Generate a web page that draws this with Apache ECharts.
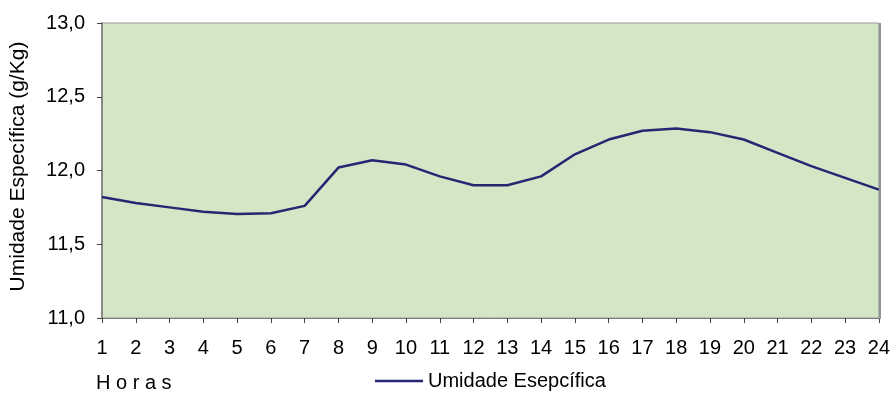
<!DOCTYPE html>
<html>
<head>
<meta charset="utf-8">
<script src="https://cdn.jsdelivr.net/npm/echarts@6/dist/echarts.min.js"></script>
<style>
  html, body { margin: 0; padding: 0; background: #ffffff; }
  #chart { width: 893px; height: 394px; }
</style>
</head>
<body>
<div id="chart"></div>
<script>
// Hourly specific humidity (g/Kg)
const hours = ['1','2','3','4','5','6','7','8','9','10','11','12','13','14','15','16','17','18','19','20','21','22','23','24'];
const umidade = [11.82, 11.78, 11.75, 11.72, 11.705, 11.71, 11.76, 12.02, 12.07, 12.04, 11.96, 11.90, 11.90, 11.96, 12.11, 12.21, 12.27, 12.285, 12.26, 12.21, 12.12, 12.03, 11.95, 11.87];
const seriesName = 'Umidade Esepcífica';
const yTitle = 'Umidade Específica (g/Kg)';
const xTitle = 'H o r a s';

const chart = echarts.init(document.getElementById('chart'), null, { renderer: 'canvas' });
const font = 'Liberation Sans, Arial, sans-serif';
const fs = 20;

chart.setOption({
  animation: false,
  backgroundColor: '#ffffff',
  textStyle: { fontFamily: font },
  grid: {
    left: 102, right: 14, top: 23, bottom: 76,
    show: true, backgroundColor: '#d3e6c5', borderColor: '#9a9a9a', borderWidth: 1
  },
  legend: {
    data: [{ name: seriesName, icon: 'rect' }],
    left: 370, top: 366,
    itemWidth: 48, itemHeight: 2.5, itemGap: 6,
    textStyle: { fontFamily: font, fontSize: fs, color: '#000000' }
  },
  graphic: [
    { type: 'text', left: 96, top: 373, style: { text: xTitle, font: fs + 'px ' + font, fill: '#000000' } },
    { type: 'rect', shape: { x: 879, y: 23, width: 2, height: 296 }, style: { fill: '#8f9296' }, z: 10 }
  ],
  xAxis: {
    type: 'category', data: hours, boundaryGap: false,
    axisLine: { lineStyle: { color: '#7a7a7a', width: 1 } },
    axisTick: { show: true, length: 5, lineStyle: { color: '#444444' }, alignWithLabel: true },
    axisLabel: { color: '#000000', fontSize: fs, fontFamily: font, margin: 20, interval: 0 },
    splitLine: { show: false }
  },
  yAxis: {
    type: 'value', min: 11, max: 13, interval: 0.5,
    name: yTitle, nameLocation: 'middle', nameGap: 73, nameRotate: 90,
    nameTextStyle: { color: '#000000', fontSize: 21, fontFamily: font, padding: [0, 0, 0, 8] },
    axisLine: { show: true, lineStyle: { color: '#8a8a8a', width: 2 } },
    axisTick: { show: true, length: 5, inside: false, lineStyle: { color: '#444444' } },
    axisLabel: { color: '#000000', fontSize: fs, fontFamily: font, margin: 17,
      formatter: v => v.toFixed(1).replace('.', ',') },
    splitLine: { show: false }
  },
  series: [{
    name: seriesName, type: 'line', data: umidade,
    symbol: 'none', smooth: false,
    lineStyle: { color: '#262673', width: 2.5 },
    itemStyle: { color: '#262673' }
  }]
});
</script>
</body>
</html>
